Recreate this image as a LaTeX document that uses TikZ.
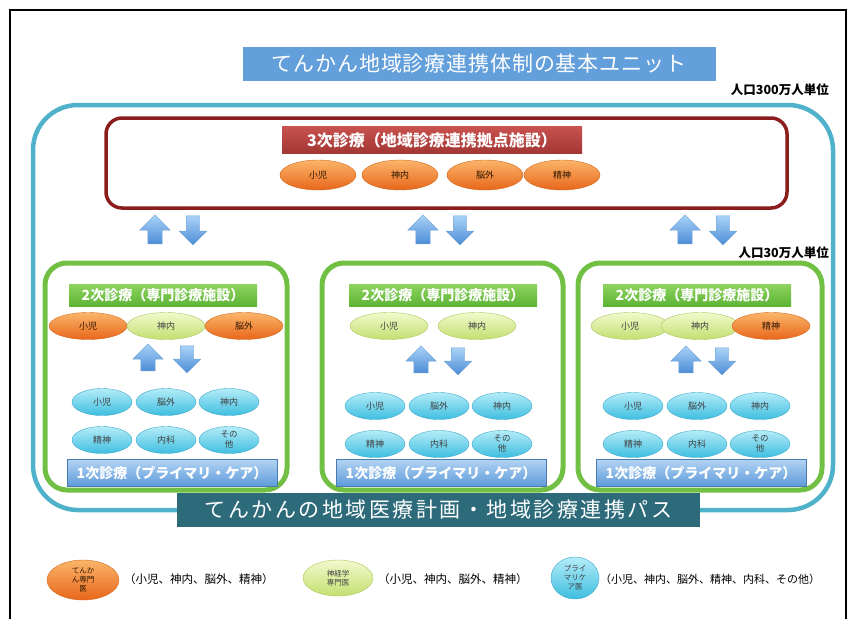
\documentclass[tikz,border=0pt]{standalone}
\usepackage{fontspec}
\setmainfont{Noto Sans CJK JP}
\usetikzlibrary{shapes.geometric,shapes.arrows}
\newcommand\jpsz[1]{\fontsize{#1}{#1}\selectfont}
\definecolor{tealline}{HTML}{4FB2CA}
\definecolor{darkred}{HTML}{8C1D1D}
\definecolor{titleblue}{HTML}{629FDB}
\definecolor{redtop}{HTML}{C8524E}
\definecolor{redbot}{HTML}{A23634}
\definecolor{orgtop}{HTML}{FAB56A}
\definecolor{orgbot}{HTML}{E8661A}
\definecolor{orgedge}{HTML}{D46A1E}
\definecolor{lgtop}{HTML}{F2F9CC}
\definecolor{lgbot}{HTML}{C4DF70}
\definecolor{lgedge}{HTML}{A9C85C}
\definecolor{cytop}{HTML}{B4ECF8}
\definecolor{cybot}{HTML}{3EBEE0}
\definecolor{cyedge}{HTML}{3FA9C8}
\definecolor{grline}{HTML}{72C043}
\definecolor{grtop}{HTML}{8ED35E}
\definecolor{grbot}{HTML}{5DB436}
\definecolor{bltop}{HTML}{B2D3F3}
\definecolor{blbot}{HTML}{5D9ADA}
\definecolor{artop}{HTML}{A9D2F8}
\definecolor{arbot}{HTML}{4C8DD6}
\definecolor{aredge}{HTML}{6B9FD6}
\definecolor{darkteal}{HTML}{2D6B7B}
\tikzset{
  ell/.style={ellipse, inner sep=0pt, align=center},
  orgell/.style={ell, draw=orgedge, top color=orgtop, bottom color=orgbot, text=black!70!orange!60!black, font=\jpsz{9}},
  lgell/.style={ell, draw=lgedge, top color=lgtop, bottom color=lgbot, text=black!75, font=\jpsz{9}},
  cyell/.style={ell, draw=cyedge, top color=cytop, bottom color=cybot, text=black!75, font=\jpsz{9}},
  topell/.style={minimum width=76pt, minimum height=30pt},
  midell/.style={minimum width=78pt, minimum height=27pt},
  lowell/.style={minimum width=60pt, minimum height=27pt},
  upar/.style={single arrow, shape border rotate=90, single arrow head extend=8pt,
    minimum height=29pt, minimum width=30pt, inner sep=7pt, draw=aredge,
    top color=artop, bottom color=arbot},
  downar/.style={single arrow, shape border rotate=270, single arrow head extend=7pt,
    minimum height=29pt, minimum width=27pt, inner sep=6.5pt, draw=aredge,
    top color=artop, bottom color=arbot},
  greenbox/.style={draw=grline, line width=5pt, rounded corners=22pt, minimum height=227pt},
  greenhead/.style={top color=grtop, bottom color=grbot, text=white, font=\jpsz{14}\bfseries,
    minimum width=188pt, minimum height=22pt, inner sep=0pt},
  bluefoot/.style={top color=bltop, bottom color=blbot, draw=blbot!80!black, text=white,
    font=\jpsz{14}\bfseries, minimum width=210pt, minimum height=27pt, inner sep=0pt},
  poplabel/.style={font=\jpsz{12.5}\bfseries, anchor=east, inner sep=0pt},
  legtext/.style={font=\jpsz{11.5}, anchor=west, inner sep=0pt},
}
\begin{document}
\begin{tikzpicture}[x=1pt,y=-1pt]
\useasboundingbox (0,0) rectangle (853,619);
% frame
\draw[line width=2pt] (10,619) -- (10,10) -- (846,10) -- (846,619);

% title
\node[fill=titleblue, text=white, font=\jpsz{21}\addfontfeature{LetterSpace=4}, minimum width=473pt, minimum height=34pt, inner sep=0pt]
  (title) at (479,64) {てんかん地域診療連携体制の基本ユニット};
\node[poplabel] (pop300) at (829,90) {人口300万人単位};

% outer teal
\node[draw=tealline, line width=4.5pt, rounded corners=45pt, minimum width=800pt, minimum height=405pt]
  (outer) at (433,307.5) {};

% tertiary
\node[draw=darkred, line width=3.5pt, rounded corners=16pt, minimum width=681pt, minimum height=90pt, fill=white]
  (tert) at (446.5,163) {};
\node[top color=redtop, bottom color=redbot, text=white, font=\jpsz{16}\bfseries, minimum width=300pt,
  minimum height=27pt, inner sep=0pt] (terthead) at (432,140) {3次診療（地域診療連携拠点施設）};
\node[orgell, topell] (t1) at (318,175) {小児};
\node[orgell, topell] (t2) at (400,175) {神内};
\node[orgell, topell] (t3) at (485,175) {脳外};
\node[orgell, topell] (t4) at (562,175) {精神};

% top arrows
\node[upar] (ua1) at (155,233) {};
\node[downar] (da1) at (193,227) {};
\node[upar] (ua2) at (423,233) {};
\node[downar] (da2) at (460,227) {};
\node[upar] (ua3) at (685,233) {};
\node[downar] (da3) at (723,227) {};
\node[poplabel] (pop30) at (829,253) {人口30万人単位};

% green boxes
\node[greenbox, minimum width=242pt] (gL) at (166,376.5) {};
\node[greenbox, minimum width=241pt] (gM) at (442.5,376.5) {};
\node[greenbox, minimum width=244pt] (gR) at (700,376.5) {};

\node[greenhead] (hL) at (163,295) {2次診療（専門診療施設）};
\node[greenhead] (hM) at (443,295) {2次診療（専門診療施設）};
\node[greenhead] (hR) at (697,295) {2次診療（専門診療施設）};

% secondary ellipses
\node[orgell, midell] (sL1) at (88,326) {小児};
\node[lgell, midell] (sL2) at (166,326) {神内};
\node[orgell, midell] (sL3) at (244,326) {脳外};
\node[lgell, midell] (sM1) at (389,326) {小児};
\node[lgell, midell] (sM2) at (477,326) {神内};
\node[lgell, midell] (sR1) at (630,326) {小児};
\node[lgell, midell] (sR2) at (700,326) {神内};
\node[orgell, midell] (sR3) at (771,326) {精神};

% inner arrows
\node[upar, minimum height=27pt] (iuL) at (148,361) {};
\node[downar, minimum height=27pt] (idL) at (187,356) {};
\node[upar, minimum height=27pt] (iuM) at (421,363) {};
\node[downar, minimum height=27pt] (idM) at (458,358) {};
\node[upar, minimum height=27pt] (iuR) at (686,363) {};
\node[downar, minimum height=27pt] (idR) at (722,358) {};

% primary ellipses
\foreach \cx/\cy/\nm in {102/402/L, 375/406/M, 633/406/R}{
  \node[cyell, lowell] (p\nm1) at (\cx,\cy) {小児};
  \node[cyell, lowell] (p\nm2) at (\cx+64,\cy) {脳外};
  \node[cyell, lowell] (p\nm3) at (\cx+127,\cy) {神内};
  \node[cyell, lowell] (p\nm4) at (\cx,\cy+38) {精神};
  \node[cyell, lowell] (p\nm5) at (\cx+64,\cy+38) {内科};
  \node[cyell, lowell, font=\fontsize{8.5}{10}\selectfont] (p\nm6) at (\cx+127,\cy+38) {その\\他};
}

% footers
\node[bluefoot] (fL) at (172,473) {1次診療（プライマリ・ケア）};
\node[bluefoot] (fM) at (441,473) {1次診療（プライマリ・ケア）};
\node[bluefoot] (fR) at (701,473) {1次診療（プライマリ・ケア）};

% bottom bar
\node[fill=darkteal, text=white, font=\jpsz{21}\addfontfeature{LetterSpace=12}, minimum width=523pt, minimum height=34pt, inner sep=0pt]
  (path) at (438.5,510) {てんかんの地域医療計画・地域診療連携パス};

% legend
\node[orgell, minimum width=72pt, minimum height=40pt, font=\fontsize{7.5}{9}\selectfont] (lg1) at (83,580) {てんか\\ん専門\\医};
\node[legtext] (lt1) at (124,579) {（小児、神内、脳外、精神）};
\node[lgell, minimum width=70pt, minimum height=36pt, font=\fontsize{7.5}{9}\selectfont] (lg2) at (338,578) {神経学\\専門医};
\node[legtext] (lt2) at (378,579) {（小児、神内、脳外、精神）};
\node[cyell, minimum width=48pt, minimum height=42pt, font=\fontsize{7.5}{9}\selectfont] (lg3) at (575,578) {プライ\\マリケ\\ア医};
\node[legtext, font=\jpsz{11}] (lt3) at (600,579) {（小児、神内、脳外、精神、内科、その他）};
\end{tikzpicture}
\end{document}
